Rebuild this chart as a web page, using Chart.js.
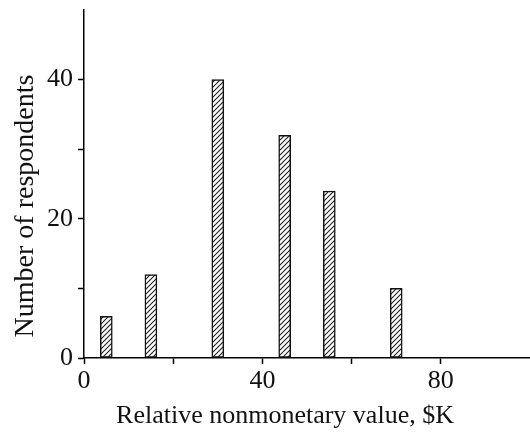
<!DOCTYPE html>
<html>
<head>
<meta charset="utf-8">
<script src="https://cdn.jsdelivr.net/npm/chart.js@4/dist/chart.umd.min.js"></script>
<style>
  html, body { margin: 0; padding: 0; background: #fff; }
  #wrap { width: 530px; height: 432px; position: relative; }
</style>
</head>
<body>
<div id="wrap"><canvas id="chart"></canvas></div>
<script>
// ---------- Data ----------
const binCenters = [5, 15, 30, 45, 55, 70];
const respondents = [6, 12, 40, 32, 24, 10];
const xTickLabels = [0, 40, 80];
const yTickLabels = [0, 20, 40];
const xTitle = 'Relative nonmonetary value, $K';
const yTitle = 'Number of respondents';

// ---------- Hatch pattern (///) ----------
function makeHatch() {
  const size = 5;
  const c = document.createElement('canvas');
  c.width = size;
  c.height = size;
  const g = c.getContext('2d');
  g.fillStyle = '#fff';
  g.fillRect(0, 0, size, size);
  g.strokeStyle = '#222';
  g.lineWidth = 1.1;
  g.beginPath();
  g.moveTo(-1, size + 1);
  g.lineTo(size + 1, -1);
  g.moveTo(-1, 1);
  g.lineTo(1, -1);
  g.moveTo(size - 1, size + 1);
  g.lineTo(size + 1, size - 1);
  g.stroke();
  return g.createPattern(c, 'repeat');
}

const fontFamily = '"Liberation Serif", "Times New Roman", serif';
const font = { family: fontFamily, size: 26 };

// axis titles drawn by hand so they sit where the original has them
const axisTitles = {
  id: 'axisTitles',
  afterDraw(chart) {
    const ctx = chart.ctx;
    ctx.save();
    ctx.fillStyle = '#111';
    ctx.textAlign = 'center';
    ctx.textBaseline = 'alphabetic';
    ctx.font = '26px ' + fontFamily;
    ctx.fillText(xTitle, 285, 423);
    ctx.font = '28px ' + fontFamily;
    ctx.translate(33, 206);
    ctx.rotate(-Math.PI / 2);
    ctx.fillText(yTitle, 0, 0);
    ctx.restore();
  }
};

new Chart(document.getElementById('chart'), {
  type: 'bar',
  data: {
    datasets: [{
      data: binCenters.map((x, i) => ({ x: x, y: respondents[i] })),
      backgroundColor: makeHatch(),
      borderColor: '#111',
      borderWidth: 1.5,
      borderSkipped: false,
      barThickness: 12
    }]
  },
  plugins: [axisTitles],
  options: {
    responsive: true,
    maintainAspectRatio: false,
    animation: false,
    layout: { padding: { top: 10, right: 0, left: 0, bottom: 0 } },
    plugins: { legend: { display: false }, tooltip: { enabled: false } },
    scales: {
      x: {
        type: 'linear',
        min: 0,
        max: 100,
        offset: false,
        grid: {
          offset: false,
          drawOnChartArea: false,
          drawTicks: true,
          tickLength: 6,
          tickWidth: 1.5,
          tickColor: (ctx) => (ctx.tick && ctx.tick.value === 100 ? 'rgba(0,0,0,0)' : '#000')
        },
        border: { color: '#000', width: 1.5 },
        ticks: {
          stepSize: 20,
          color: '#111',
          font: font,
          padding: 2,
          maxRotation: 0,
          callback: (v) => (xTickLabels.includes(v) ? String(v) : '')
        },
        afterFit: (scale) => {
          scale.height = 74;
          scale.paddingLeft = 0;
          scale.paddingRight = 0;
        }
      },
      y: {
        min: 0,
        max: 50,
        grid: {
          drawOnChartArea: false,
          drawTicks: true,
          tickLength: 6,
          tickWidth: 1.5,
          tickColor: (ctx) => (ctx.tick && ctx.tick.value === 50 ? 'rgba(0,0,0,0)' : '#000')
        },
        border: { color: '#000', width: 1.5 },
        ticks: {
          stepSize: 10,
          color: '#111',
          font: font,
          padding: 5,
          callback: (v) => (yTickLabels.includes(v) ? String(v) : '')
        },
        afterFit: (scale) => {
          scale.width = 84;
          scale.paddingTop = 0;
          scale.paddingBottom = 0;
        }
      }
    }
  }
});
</script>
</body>
</html>
